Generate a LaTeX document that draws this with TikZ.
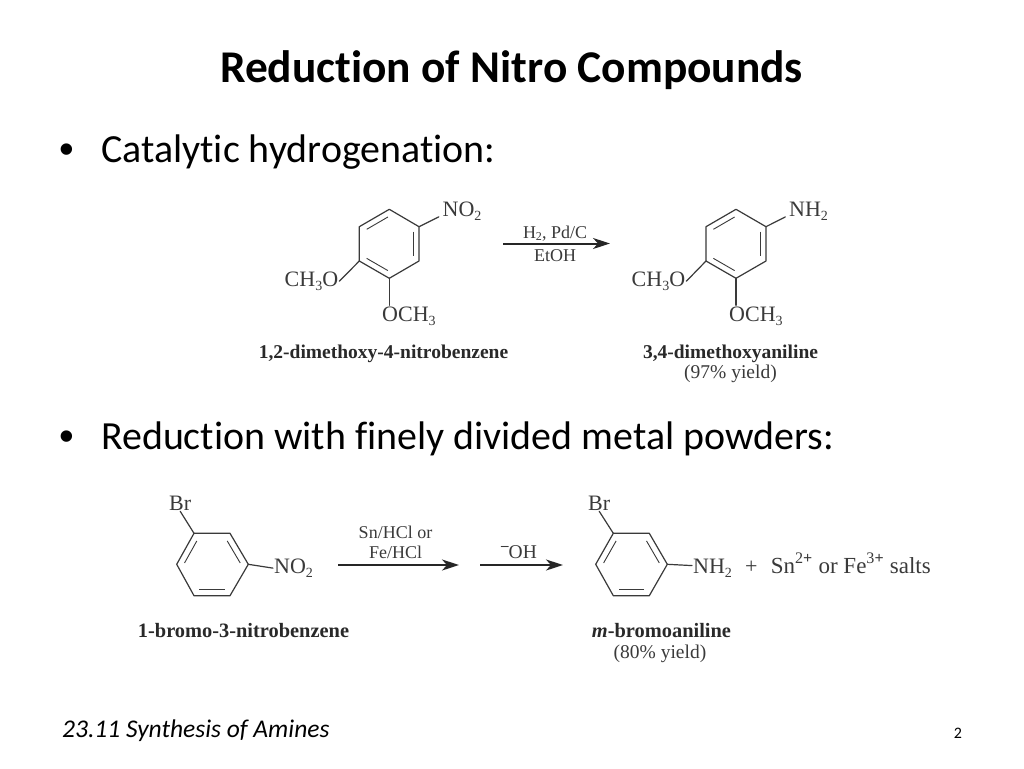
\documentclass[tikz,border=0pt]{standalone}
\usepackage{fontspec}
\setmainfont[Ligatures=NoCommon]{Carlito}
\newfontfamily\chemfont{Liberation Serif}
\newfontfamily\bulletfont{Liberation Sans}
\usetikzlibrary{calc,arrows.meta}
\definecolor{chemgray}{HTML}{3A3A3A}
\newcommand{\fs}[1]{\fontsize{#1}{#1}\selectfont}
\newcommand{\lowered}[1]{\raisebox{-0.22em}{\fontsize{14}{14}\selectfont #1}}
\newcommand{\subtwo}{\lowered{2}}
\newcommand{\subthree}{\lowered{3}}
\tikzset{
  titletext/.style={anchor=base,inner sep=0pt,font=\fs{45.4}\bfseries,text=black},
  bodytext/.style={anchor=base west,inner sep=0pt,font=\fs{39.9},text=black},
  bullettext/.style={anchor=base west,inner sep=0pt,font=\bulletfont\fs{42},text=black},
  atom/.style={anchor=base west,inner sep=1pt,font=\chemfont\fs{22},text=chemgray},
  reagent/.style={anchor=base,inner sep=0pt,font=\chemfont\fs{18},text=chemgray},
  cname/.style={anchor=base,inner sep=0pt,font=\chemfont\fs{19.5}\bfseries,text=chemgray!70!black},
  cnameb/.style={cname,font=\chemfont\fs{20.4}\bfseries},
  cyield/.style={anchor=base,inner sep=0pt,font=\chemfont\fs{19.5},text=chemgray},
  bond/.style={draw=chemgray,line width=1.2pt,line join=round,line cap=round},
  innerbond/.style={draw=chemgray,line width=0.9pt,shorten <=1.6pt,shorten >=1.6pt},
  rxn/.style={draw=black!85,line width=2pt,-{Stealth[length=17pt,width=11pt,inset=5pt]}}
}
\newcommand{\ringat}[7]{%
  \coordinate (#1a) at #2; \coordinate (#1b) at #3; \coordinate (#1c) at #4;
  \coordinate (#1d) at #5; \coordinate (#1e) at #6; \coordinate (#1f) at #7;
  \coordinate (#1o) at ($(#1a)!.5!(#1d)$);
  \draw[bond] (#1a)--(#1b)--(#1c)--(#1d)--(#1e)--(#1f)--cycle;
}
\newcommand{\dbl}[3]{\draw[innerbond] ($(#1o)!.8!(#1#2)$) -- ($(#1o)!.8!(#1#3)$);}
\begin{document}
\begin{tikzpicture}[x=1pt,y=-1pt]
\path[use as bounding box,fill=white] (0,0) rectangle (1024,768);
\node[titletext] (title) at (511.5,82.5) {Reduction of Nitro Compounds};
\node[bullettext] (b1) at (59,163) {•};
\node[bodytext] (t1) at (101,162) {Catalytic hydrogenation:};
\node[bullettext] (b2) at (59,450) {•};
\node[bodytext] (t2) at (101,449) {Reduction with finely divided metal powders:};
\node[anchor=base west,inner sep=0pt,font=\fs{25.5}\itshape] (foot) at (62,737) {23.11 Synthesis of Amines};
\node[anchor=base,inner sep=0pt,font=\fs{16}] (page) at (958,738) {2};

% reaction 1, left
\ringat{p}{(389.3,209.3)}{(419,226.7)}{(419,261)}{(389.3,278.3)}{(359.3,261)}{(359.3,226.7)}
\dbl{p}{f}{a}\dbl{p}{b}{c}\dbl{p}{d}{e}
\node[atom] (pno) at (441.5,216) {NO\subtwo};
\node[atom] (pme) at (283.5,286) {CH\subthree O};
\node[atom] (pom) at (381,321) {OCH\subthree};
\draw[bond,shorten >=3pt] (pb) -- ($(pno.west)!.4!(pno.south west)$);
\draw[bond] (pe) -- (pme.east);
\draw[bond] (pd) -- (pom.north -| pd);
\node[cname] (pn) at (383.5,358) {1,2-dimethoxy-4-nitrobenzene};
% arrow 1
\coordinate (a1s) at (503,243.5); \coordinate (a1e) at (610,243.5);
\draw[rxn] (a1s) -- (a1e);
\node[reagent] (a1t) at (555,238) {H\raisebox{-0.15em}{\fs{12}2}, Pd/C};
\node[reagent] (a1b) at (555,261) {EtOH};
% reaction 1, right
\ringat{q}{(736,209.3)}{(766,226.7)}{(766,261)}{(736,278.3)}{(706,261)}{(706,226.7)}
\dbl{q}{f}{a}\dbl{q}{b}{c}\dbl{q}{d}{e}
\node[atom] (qnh) at (788,216) {NH\subtwo};
\node[atom] (qme) at (630.5,286) {CH\subthree O};
\node[atom] (qom) at (728,321) {OCH\subthree};
\draw[bond,shorten >=3pt] (qb) -- ($(qnh.west)!.4!(qnh.south west)$);
\draw[bond] (qe) -- (qme.east);
\draw[bond] (qd) -- (qom.north -| qd);
\node[cname] (qn) at (730.5,358) {3,4-dimethoxyaniline};
\node[cyield] (qy) at (730.5,378) {(97\% yield)};

% reaction 2, left
\ringat{r}{(194,533.3)}{(230,533.3)}{(248.3,564.3)}{(230,595.7)}{(194,595.7)}{(176.7,564.3)}
\dbl{r}{f}{a}\dbl{r}{b}{c}\dbl{r}{d}{e}
\node[atom] (rbr) at (168,510) {Br};
\node[atom] (rno) at (273,573) {NO\subtwo};
\draw[bond] (ra) -- (rbr.south);
\draw[bond] (rc) -- (rno.west);
\node[cnameb] (rn) at (243.5,637) {1-bromo-3-nitrobenzene};
% arrows 2 and 3
\coordinate (a2s) at (338,565); \coordinate (a2e) at (459,565);
\draw[rxn] (a2s) -- (a2e);
\node[reagent] (a2t) at (395.5,538) {Sn/HCl or};
\node[reagent] (a2b) at (395.5,558) {Fe/HCl};
\coordinate (a3s) at (480,565); \coordinate (a3e) at (563,565);
\draw[rxn] (a3s) -- (a3e);
\node[reagent,font=\chemfont\fs{19.5}] (a3t) at (519,558) {\raisebox{0.36em}{\fs{15}\bfseries –}OH};
% reaction 2, right
\ringat{s}{(613.3,533.3)}{(649.3,533.3)}{(667.3,564.3)}{(649.3,595.7)}{(613.3,595.7)}{(595.7,564.3)}
\dbl{s}{f}{a}\dbl{s}{b}{c}\dbl{s}{d}{e}
\node[atom] (sbr) at (587,510) {Br};
\node[atom] (snh) at (692,573) {NH\subtwo\hspace{0.6em}+\hspace{0.6em}\fs{23}Sn\textsuperscript{2\textbf{+}} or Fe\textsuperscript{3\textbf{+}} salts};
\draw[bond] (sa) -- (sbr.south);
\draw[bond] (sc) -- (snh.west);
\node[cnameb] (sn) at (661.5,637) {\textit{m}-bromoaniline};
\node[cyield] (sy) at (660,658) {(80\% yield)};
\end{tikzpicture}
\end{document}
